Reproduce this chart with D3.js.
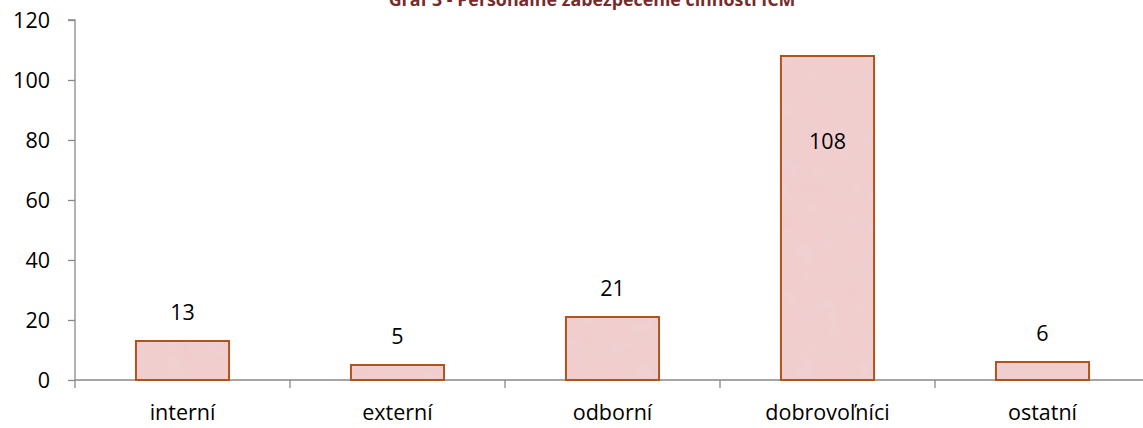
<!DOCTYPE html>
<html><head><meta charset="utf-8">
<script src="https://cdn.jsdelivr.net/npm/d3@7"></script>
<style>
body{margin:0;background:#fff;}
svg{display:block;}
text{font-family:"Open Sans",sans-serif;}
</style></head>
<body>
<svg id="chart" width="1143" height="428"></svg>
<script>
const categories = ["interní", "externí", "odborní", "dobrovoľníci", "ostatní"];
const values = [13, 5, 21, 108, 6];
const yTicks = [0, 20, 40, 60, 80, 100, 120];
const title = "Graf 3 - Personálne zabezpečenie činnosti ICM";

(function(){
const svg = d3.select("#chart");
const W = 1143, H = 428;
const mLeft = 75, mTop = 20, mBottom = 380, mRight = 1150;
const FS = 21.5;

const defs = svg.append("defs");
const f = defs.append("filter").attr("id","tex").attr("x",0).attr("y",0).attr("width","100%").attr("height","100%");
f.append("feTurbulence").attr("type","fractalNoise").attr("baseFrequency","0.05").attr("numOctaves",4).attr("seed",7).attr("result","n");
f.append("feColorMatrix").attr("in","n").attr("type","matrix")
 .attr("values","0 0 0 0 0.86  0 0 0 0 0.68  0 0 0 0 0.71  0.45 0.3 0.2 0 -0.32").attr("result","c");
f.append("feFlood").attr("flood-color","#f1cccc").attr("result","bg");
f.append("feComposite").attr("in","c").attr("in2","bg").attr("operator","over").attr("result","m");
f.append("feComposite").attr("in","m").attr("in2","SourceGraphic").attr("operator","in");

const x = d3.scaleBand().domain(categories).range([mLeft, mRight]).paddingInner(0.567).paddingOuter(0.2835);
const y = d3.scaleLinear().domain([0, 120]).range([mBottom, mTop]);

// y axis
const yAxis = d3.axisLeft(y).tickValues(yTicks).tickSize(7).tickPadding(18).tickFormat(d3.format("d"));
const gy = svg.append("g").attr("transform",`translate(${mLeft},0)`).call(yAxis);
gy.select(".domain").attr("stroke","#898989").attr("stroke-width",1.3).attr("d",`M-7,${mTop}H0V${mBottom}`);
gy.selectAll(".tick line").attr("stroke","#898989").attr("stroke-width",1.3);
gy.selectAll(".tick text").attr("font-size",FS).attr("fill","#000").style("font-family","'Open Sans',sans-serif").attr("dy","0.34em");

// x axis
const xScaleTicks = d3.scaleLinear().domain([0,5]).range([mLeft,mRight]);
const gx = svg.append("g").attr("transform",`translate(0,${mBottom})`);
gx.append("line").attr("x1",mLeft).attr("x2",W).attr("y1",0).attr("y2",0).attr("stroke","#898989").attr("stroke-width",1.3);
gx.selectAll("line.tk").data(d3.range(0,6)).enter().append("line").attr("class","tk")
  .attr("x1",d=>xScaleTicks(d)).attr("x2",d=>xScaleTicks(d)).attr("y1",0).attr("y2",8)
  .attr("stroke","#898989").attr("stroke-width",1.3);
gx.selectAll("text").data(categories).enter().append("text")
  .attr("x",d=>x(d)+x.bandwidth()/2).attr("y",33).attr("dy","0.34em")
  .attr("text-anchor","middle").attr("font-size",FS).attr("fill","#000").text(d=>d);

// bars
const bars = svg.append("g");
bars.selectAll("rect.fillr").data(values).enter().append("rect").attr("class","fillr")
  .attr("x",(d,i)=>x(categories[i])).attr("width",x.bandwidth())
  .attr("y",d=>y(d)).attr("height",d=>y(0)-y(d))
  .attr("fill","#f0cbcb").attr("filter","url(#tex)");
bars.selectAll("rect.str").data(values).enter().append("rect").attr("class","str")
  .attr("x",(d,i)=>x(categories[i])).attr("width",x.bandwidth())
  .attr("y",d=>y(d)).attr("height",d=>y(0)-y(d))
  .attr("fill","none").attr("stroke","#b0541c").attr("stroke-width",2);

// labels
svg.append("g").selectAll("text").data(values).enter().append("text")
  .attr("x",(d,i)=>x(categories[i])+x.bandwidth()/2)
  .attr("y",d=> d>100 ? y(d)+86 : y(d)-28)
  .attr("dy","0.34em").attr("text-anchor","middle").attr("font-size",FS).attr("fill","#000")
  .text(d=>d);

// title
const t = svg.append("text").attr("x",592).attr("y",6).attr("text-anchor","middle")
  .attr("font-weight","bold").attr("fill","#772b2b").attr("font-size",20).text(title);
const len = t.node().getComputedTextLength();
t.attr("font-size", 20*407/len);
})();
</script>
</body></html>
